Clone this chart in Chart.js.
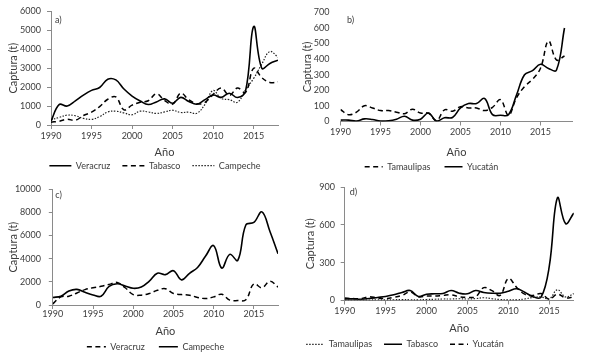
<!DOCTYPE html>
<html>
<head>
<meta charset="utf-8">
<script src="https://cdn.jsdelivr.net/npm/chart.js@4.4.0/dist/chart.umd.min.js"></script>
<style>
  html, body { margin: 0; padding: 0; background: #fff; }
  #wrap { position: relative; width: 589px; height: 352px; overflow: hidden; }
  canvas { position: absolute; }
</style>
</head>
<body>
<div id="wrap">
  <canvas id="chartA" width="295" height="176" style="left:0;top:0"></canvas>
  <canvas id="chartB" width="294" height="176" style="left:295px;top:0"></canvas>
  <canvas id="chartC" width="295" height="176" style="left:0;top:176px"></canvas>
  <canvas id="chartD" width="294" height="176" style="left:295px;top:176px"></canvas>
</div>
<script>
// years on the x axis
const years = [1990, 1991, 1992, 1993, 1994, 1995, 1996, 1997, 1998, 1999,
               2000, 2001, 2002, 2003, 2004, 2005, 2006, 2007, 2008, 2009,
               2010, 2011, 2012, 2013, 2014, 2015, 2016, 2017, 2018];

// a) captura (t)
const veracruzA = [200, 1080, 1000, 1270, 1580, 1830, 1980, 2420, 2380, 1900,
                   1530, 1270, 1080, 1220, 1380, 1150, 1460, 1240, 1100, 1340,
                   1580, 1460, 1680, 1450, 1800, 5200, 3000, 3250, 3420];
const tabascoA  = [150, 200, 300, 250, 500, 680, 970, 1360, 1480, 800,
                   1050, 1200, 1280, 1650, 1300, 1100, 1680, 1330, 1120, 1200,
                   1620, 1950, 1570, 1950, 1720, 3000, 2500, 2250, 2280];
const campecheA = [270, 400, 520, 490, 350, 300, 440, 690, 730, 640,
                   540, 730, 690, 610, 690, 780, 660, 680, 620, 1100,
                   1820, 1400, 1340, 1200, 1860, 2460, 3220, 3880, 3580];

// b) captura (t)
const tamaulipasB = [77, 44, 60, 101, 87, 70, 70, 60, 50, 79,
                     54, 54, 5, 75, 66, 95, 87, 87, 70, 91,
                     140, 40, 152, 224, 271, 342, 516, 395, 420];
const yucatanB    = [9, 9, 3, 17, 13, 3, 5, 15, 34, 9,
                     15, 54, 3, 24, 26, 87, 115, 115, 148, 44,
                     40, 44, 170, 300, 326, 367, 340, 330, 600];

// c) captura (t)
const veracruzC = [100, 700, 760, 1040, 1330, 1490, 1610, 1780, 1950, 1490,
                   900, 850, 990, 1270, 1410, 990, 900, 850, 650, 560,
                   700, 930, 420, 390, 450, 1830, 1490, 2060, 1550];
const campecheC = [650, 760, 1210, 1350, 1100, 870, 760, 1610, 1830, 1640,
                   1440, 1550, 2060, 2740, 2620, 2960, 2170, 2740, 3240, 4230,
                   5130, 3190, 4370, 3860, 6910, 7130, 8040, 6350, 4430];

// d) captura (t)
const tamaulipasD = [5, 4, 5, 4, 6, 5, 6, 7, 6, 5,
                     8, 10, 12, 12, 14, 12, 15, 22, 14, 8,
                     5, 5, 12, 24, 28, 13, 85, 28, 55];
const tabascoD    = [13, 13, 10, 16, 24, 32, 45, 64, 79, 32,
                     50, 53, 56, 79, 58, 53, 79, 64, 58, 58,
                     74, 93, 66, 30, 26, 270, 815, 610, 694];
const yucatanD    = [20, 15, 15, 30, 20, 15, 25, 40, 68, 30,
                     35, 35, 40, 45, 30, 25, 30, 102, 78, 40,
                     175, 105, 50, 40, 55, 10, 50, 20, 28];

const textColor = '#3c3c3c';
const axisColor = '#8a8a8a';
const fontFamily = 'Lato, "Open Sans", sans-serif';

const solid = { borderDash: [], borderWidth: 1.6, borderColor: '#000' };
const dashed = { borderDash: [5, 3.5], borderWidth: 1.5, borderColor: '#000' };
const dotted = { borderDash: [1.5, 1.5], borderWidth: 1.2, borderColor: '#222' };

function series(label, values, style) {
    return {
        label: label,
        data: values.map((v, i) => ({ x: years[i], y: v })),
        borderColor: style.borderColor,
        backgroundColor: style.borderColor,
        borderWidth: style.borderWidth,
        borderDash: style.borderDash,
        pointRadius: 0,
        pointStyle: 'line',
        tension: 0.4,
        fill: false,
    };
}

// legend samples take the dash of their line
function legendLabels(chart) {
    const items = Chart.defaults.plugins.legend.labels.generateLabels(chart);
    return items.map(item => {
        const ds = chart.data.datasets[item.datasetIndex];
        item.lineDash = ds.borderDash;
        item.lineWidth = ds.borderWidth;
        item.strokeStyle = ds.borderColor;
        item.pointStyle = 'line';
        return item;
    });
}

// moves the legend to where the reference has it, and writes the panel tag
const panelExtras = {
    id: 'panelExtras',
    afterLayout(chart, args, opts) {
        const lg = chart.legend;
        const p = lg.options.labels.padding;
        lg.top = opts.legendY - p - opts.legendFont / 2;
        lg.height = 30;
        lg.bottom = lg.top + lg.height;
        const dx = opts.legendX - (lg.left + lg.right) / 2;
        lg.left += dx;
        lg.right += dx;
    },
    afterDraw(chart, args, opts) {
        const ctx = chart.ctx;
        const area = chart.chartArea;
        ctx.save();
        ctx.fillStyle = textColor;
        ctx.font = '9px ' + fontFamily;
        ctx.textBaseline = 'middle';
        ctx.fillText(opts.tag, area.left + opts.tagDx, area.top + opts.tagDy);
        ctx.restore();
    }
};

function makePanel(id, p) {
    const W = p.width, H = p.height;
    const xH = 40;
    const legendH = 1;
    return new Chart(document.getElementById(id), {
        type: 'line',
        data: { datasets: p.datasets },
        plugins: [panelExtras],
        options: {
            responsive: false,
            animation: false,
            devicePixelRatio: 1,
            layout: {
                padding: {
                    left: 0,
                    top: p.top,
                    right: W - p.right,
                    bottom: H - p.bottom - xH - legendH,
                },
            },
            scales: {
                x: {
                    type: 'linear',
                    min: 1990,
                    max: p.xMax,
                    afterBuildTicks: (scale) => {
                        scale.ticks = scale.ticks.filter(t => t.value % 5 === 0);
                    },
                    afterFit: (scale) => { scale.height = xH; },
                    ticks: {
                        stepSize: 5,
                        includeBounds: false,
                        autoSkip: false,
                        maxRotation: 0,
                        padding: p.xTickPad,
                        color: textColor,
                        font: { family: fontFamily, size: 9 },
                        callback: (v) => String(v),
                    },
                    grid: { drawOnChartArea: false, tickLength: 4, color: axisColor },
                    border: { color: axisColor, width: 1 },
                    title: {
                        display: true,
                        text: 'Año',
                        color: textColor,
                        font: { family: fontFamily, size: 11 },
                        padding: { top: 0, bottom: p.bottom + xH - 6.6 - p.xTitleY },
                    },
                },
                y: {
                    min: 0,
                    max: p.yMax,
                    afterFit: (scale) => { scale.width = p.left; },
                    ticks: {
                        stepSize: p.yStep,
                        padding: p.yTickPad,
                        color: textColor,
                        font: { family: fontFamily, size: 9 },
                        callback: (v) => String(v),
                    },
                    grid: { display: p.yAxisLine, drawOnChartArea: false, tickLength: 4, color: axisColor },
                    border: { display: p.yAxisLine, color: axisColor, width: 1 },
                    title: {
                        display: true,
                        text: 'Captura (t)',
                        color: textColor,
                        font: { family: fontFamily, size: 11 },
                        padding: { top: p.yTitleX - 6.6, bottom: 0 },
                    },
                },
            },
            plugins: {
                legend: {
                    position: 'bottom',
                    maxHeight: legendH,
                    labels: {
                        usePointStyle: true,
                        pointStyleWidth: p.legendLine,
                        padding: p.legendGap,
                        color: textColor,
                        font: { family: fontFamily, size: 9 },
                        generateLabels: legendLabels,
                    },
                },
                tooltip: { enabled: false },
                panelExtras: {
                    tag: p.tag, tagDx: p.tagDx, tagDy: p.tagDy,
                    legendX: p.legendX, legendY: p.legendY, legendFont: 9,
                },
            },
        },
    });
}

makePanel('chartA', {
    width: 295, height: 176,
    left: 51, right: 278, top: 7, bottom: 125,
    xMax: 2018, yMax: 6000, yStep: 1000, yAxisLine: true,
    yTickPad: 6, yTitleX: 13, xTickPad: 2, xTitleY: 152,
    legendX: 155, legendY: 165.7, legendLine: 22, legendGap: 12,
    tag: 'a)', tagDx: 4, tagDy: 9,
    datasets: [
        series('Veracruz', veracruzA, solid),
        series('Tabasco', tabascoA, dashed),
        series('Campeche', campecheA, dotted),
    ],
});

makePanel('chartB', {
    width: 294, height: 176,
    left: 45.5, right: 277.5, top: 7, bottom: 121.5,
    xMax: 2019, yMax: 700, yStep: 100, yAxisLine: false,
    yTickPad: 7, yTitleX: 12.5, xTickPad: 1.5, xTitleY: 152.3,
    legendX: 136.5, legendY: 166.7, legendLine: 18, legendGap: 14,
    tag: 'b)', tagDx: 6.5, tagDy: 8,
    datasets: [
        series('Tamaulipas', tamaulipasB, dashed),
        series('Yucatán', yucatanB, solid),
    ],
});

makePanel('chartC', {
    width: 295, height: 176,
    left: 52.8, right: 278, top: 11.7, bottom: 129,
    xMax: 2018, yMax: 10000, yStep: 2000, yAxisLine: true,
    yTickPad: 7.8, yTitleX: 13, xTickPad: 0, xTitleY: 155,
    legendX: 155.5, legendY: 170.7, legendLine: 19, legendGap: 14,
    tag: 'c)', tagDx: 2.5, tagDy: 5.5,
    datasets: [
        series('Veracruz', veracruzC, dashed),
        series('Campeche', campecheC, solid),
    ],
});

makePanel('chartD', {
    width: 294, height: 176,
    left: 49.7, right: 278.8, top: 10.7, bottom: 124.5,
    xMax: 2018, yMax: 900, yStep: 300, yAxisLine: true,
    yTickPad: 5.7, yTitleX: 15.5, xTickPad: 1.5, xTitleY: 152.7,
    legendX: 110, legendY: 168.3, legendLine: 18, legendGap: 12,
    tag: 'd)', tagDx: 5, tagDy: 4.5,
    datasets: [
        series('Tamaulipas', tamaulipasD, dotted),
        series('Tabasco', tabascoD, solid),
        series('Yucatán', yucatanD, dashed),
    ],
});
</script>
</body>
</html>
